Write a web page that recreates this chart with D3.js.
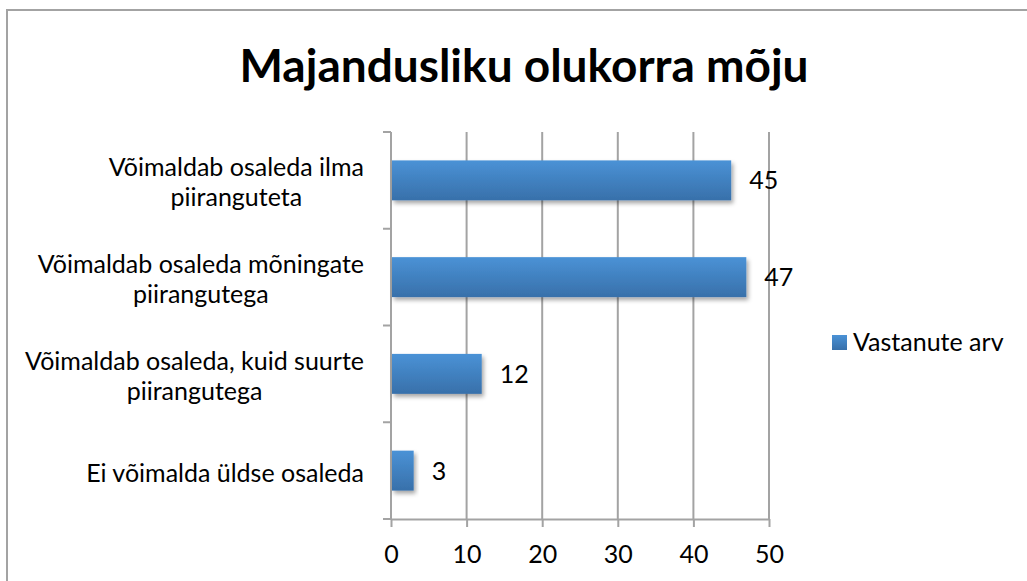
<!DOCTYPE html>
<html>
<head>
<meta charset="utf-8">
<script src="https://cdn.jsdelivr.net/npm/d3@7"></script>
<style>
	body { margin: 0; background: #fff; }
	text { font-family: Lato, "Open Sans", sans-serif; fill: #000; }
</style>
</head>
<body>
<div id="chart"></div>
<script>
var chartTitle = "Majandusliku olukorra mõju";
var seriesName = "Vastanute arv";
var categories = [
	"Võimaldab osaleda ilma\npiiranguteta",
	"Võimaldab osaleda mõningate\npiirangutega",
	"Võimaldab osaleda, kuid suurte\npiirangutega",
	"Ei võimalda üldse osaleda"
];
var values = [45, 47, 12, 3];
var xTicks = [0, 10, 20, 30, 40, 50];

function chart() {
	var width = 1027, height = 581;
	var fontSize = 25;

	// plot area
	var plot = {left: 391, right: 769, top: 132, bottom: 519};

	var svg = d3.select("#chart").append("svg")
	.attr("width", width)
	.attr("height", height);

	var defs = svg.append("defs");
	var grad = defs.append("linearGradient")
	.attr("id", "barGrad")
	.attr("x1", 0).attr("y1", 0).attr("x2", 0).attr("y2", 1);
	grad.append("stop").attr("offset", "0%").attr("stop-color", "#4a92d6");
	grad.append("stop").attr("offset", "100%").attr("stop-color", "#3870aa");

	var shadow = defs.append("filter")
	.attr("id", "shadow")
	.attr("x", "-10%").attr("y", "-20%").attr("width", "130%").attr("height", "160%");
	shadow.append("feDropShadow")
	.attr("dx", 2).attr("dy", 3).attr("stdDeviation", 2)
	.attr("flood-color", "#000").attr("flood-opacity", 0.35);

	// outer chart border
	svg.append("rect")
	.attr("x", 7).attr("y", 10)
	.attr("width", 1100).attr("height", 700)
	.attr("fill", "none")
	.attr("stroke", "#a3a3a3")
	.attr("stroke-width", 2);

	// title
	svg.append("text")
	.attr("x", 524).attr("y", 82)
	.attr("text-anchor", "middle")
	.style("font-size", "46px")
	.style("font-weight", "bold")
	.text(chartTitle);

	// scales
	var x = d3.scaleLinear().domain([0, 50]).range([plot.left, plot.right]);
	var y = d3.scaleBand().domain(categories).range([plot.top, plot.bottom])
	.paddingInner(0.587).paddingOuter(0.2935);

	// gridlines
	svg.append("g")
	.selectAll("line")
	.data(xTicks.slice(1))
	.join("line")
	.attr("x1", function(d) { return x(d); })
	.attr("x2", function(d) { return x(d); })
	.attr("y1", plot.top).attr("y2", plot.bottom)
	.attr("stroke", "#a3a3a3")
	.attr("stroke-width", 2);

	// bottom axis
	var xAxis = svg.append("g")
	.attr("class", "axis")
	.attr("transform", "translate(0," + plot.bottom + ")")
	.call(d3.axisBottom(x).tickValues(xTicks).tickSize(8).tickSizeOuter(0));
	xAxis.select(".domain").attr("stroke", "#a3a3a3").attr("stroke-width", 2);
	xAxis.selectAll(".tick line").attr("stroke", "#a3a3a3").attr("stroke-width", 2);
	xAxis.selectAll(".tick text")
	.attr("y", 44)
	.attr("dy", 0)
	.style("font-size", fontSize + "px")
	.style("font-family", "Lato, sans-serif")
	.attr("fill", "#000");

	// left axis with ticks between categories
	var bounds = [plot.top].concat(categories.map(function(c) { return y(c) + y.bandwidth() + y.step() * y.paddingInner() / 2; }));
	bounds[bounds.length - 1] = plot.bottom;
	svg.append("line")
	.attr("x1", plot.left).attr("x2", plot.left)
	.attr("y1", plot.top).attr("y2", plot.bottom)
	.attr("stroke", "#a3a3a3").attr("stroke-width", 2);
	svg.append("g")
	.selectAll("line")
	.data(bounds)
	.join("line")
	.attr("x1", plot.left - 8).attr("x2", plot.left)
	.attr("y1", function(d) { return d; }).attr("y2", function(d) { return d; })
	.attr("stroke", "#a3a3a3").attr("stroke-width", 2);

	// category labels: block right-aligned, lines centred within block
	var lineH = 30;
	svg.append("g")
	.selectAll("text")
	.data(categories)
	.join("text")
	.attr("text-anchor", "middle")
	.style("font-size", fontSize + "px")
	.each(function(d) {
		var lines = d.split("\n");
		var cy = y(d) + y.bandwidth() / 2;
		var t = d3.select(this);
		var spans = lines.map(function(l, i) {
			return t.append("tspan")
			.attr("y", cy + (i - (lines.length - 1) / 2) * lineH + 11)
			.text(l);
		});
		var maxW = d3.max(spans, function(s) { return s.node().getComputedTextLength(); });
		spans.forEach(function(s) { s.attr("x", 364 - maxW / 2); });
	});

	// bars
	svg.append("g")
	.selectAll("rect")
	.data(values)
	.join("rect")
	.attr("x", x(0) + 1)
	.attr("y", function(d, i) { return y(categories[i]); })
	.attr("width", function(d) { return x(d) - x(0) - 1; })
	.attr("height", y.bandwidth())
	.attr("fill", "url(#barGrad)")
	.attr("filter", "url(#shadow)");

	// value labels
	svg.append("g")
	.selectAll("text")
	.data(values)
	.join("text")
	.attr("x", function(d) { return x(d) + 18; })
	.attr("y", function(d, i) { return y(categories[i]) + y.bandwidth() / 2 + 9; })
	.style("font-size", fontSize + "px")
	.text(function(d) { return d; });

	// legend
	var legend = svg.append("g").attr("transform", "translate(832,335)");
	legend.append("rect")
	.attr("width", 15).attr("height", 15)
	.attr("fill", "url(#barGrad)");
	legend.append("text")
	.attr("x", 21).attr("y", 16)
	.style("font-size", fontSize + "px")
	.text(seriesName);
}

chart();
</script>
</body>
</html>
